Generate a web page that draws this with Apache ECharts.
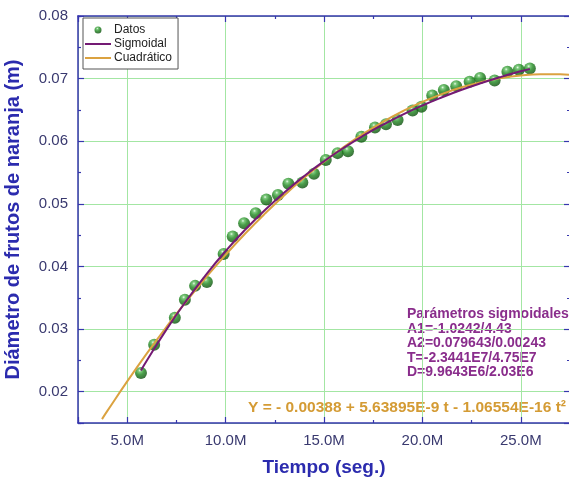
<!DOCTYPE html>
<html lang="es">
<head>
<meta charset="UTF-8">
<title>Diámetro de frutos de naranja</title>
<style>
  html, body { margin: 0; padding: 0; background: #fff; }
  #chart { width: 569px; height: 483px; }
</style>
<script src="https://cdn.jsdelivr.net/npm/echarts@6/dist/echarts.min.js"></script>
</head>
<body>
<div id="chart"></div>
<script>
// tiempo en millones de segundos (eje rotulado 5.0M, 10.0M ...)
var tiempo = [5.70, 6.37, 7.42, 7.93, 8.45, 9.05, 9.90, 10.36, 10.94, 11.53, 12.07, 12.66, 13.19, 13.90, 14.49, 15.09, 15.69,
              16.22, 16.90, 17.59, 18.15, 18.74, 19.50, 19.95, 20.50, 21.09, 21.72, 22.40, 22.93, 23.67, 24.32, 24.90, 25.46];
var diametro = [0.0230, 0.0275, 0.0318, 0.0347, 0.0369, 0.0375, 0.0420, 0.0448, 0.0469, 0.0485, 0.0507, 0.0514, 0.0532, 0.0534, 0.0548, 0.0570, 0.0581,
                0.0584, 0.0607, 0.0622, 0.0627, 0.0634, 0.0649, 0.0655, 0.0673, 0.0682, 0.0688, 0.0695, 0.0701, 0.0697, 0.0711, 0.0714, 0.0716];

// curva sigmoidal ajustada
var sigT = [5.7, 6, 7, 8, 9, 10, 11, 12, 13, 14, 15, 16, 17, 18, 19, 20, 21, 22, 23, 24, 25, 25.46];
var sigY = [0.02338, 0.02497, 0.02996, 0.03451, 0.03867, 0.04245, 0.04588, 0.04902, 0.05187, 0.05446, 0.05681,
            0.05895, 0.06089, 0.06265, 0.06426, 0.06571, 0.06702, 0.06822, 0.06930, 0.07028, 0.07117, 0.07154];

// curva cuadratica ajustada
var cuadT = [3.72, 4, 5, 6, 7, 8, 9, 10, 11, 12, 13, 14, 15, 16, 17, 18, 19, 20, 21, 22, 23, 24, 25, 26, 27, 27.5];
var cuadY = [0.01562, 0.01697, 0.02165, 0.02612, 0.03037, 0.03441, 0.03824, 0.04186, 0.04526, 0.04844, 0.05142, 0.05418, 0.05673,
             0.05907, 0.06119, 0.06310, 0.06479, 0.06628, 0.06755, 0.06861, 0.06945, 0.07008, 0.07050, 0.07070, 0.07069, 0.07061];

var xTicks = [5, 10, 15, 20, 25];
var yTicks = [0.02, 0.03, 0.04, 0.05, 0.06, 0.07, 0.08];

var paramLines = ['Parámetros sigmoidales', 'A1=-1.0242/4.43', 'A2=0.079643/0.00243', 'T=-2.3441E7/4.75E7', 'D=9.9643E6/2.03E6'];
var ecuacion = 'Y = - 0.00388 + 5.63895E-9 t - 1.06554E-16 t²';

function pares(xs, ys) {
    return xs.map(function (x, i) { return [x, ys[i]]; });
}

var frame = '#3636ad';
var labelColor = '#39396f';
var gridGreen = '#a3e6a3';
var fontFam = 'Liberation Sans, Arial, sans-serif';
var lineIcon = 'path://M0,0 L26,0 L26,2 L0,2 Z';

function isTick(list, v) {
    return list.some(function (t) { return Math.abs(t - v) < 1e-6; });
}

function xAxisCfg(pos, minor) {
    return {
        type: 'value', position: pos, min: 2.5, max: 27.5,
        splitNumber: minor ? undefined : 5,
        interval: minor ? 5 : undefined,
        axisLine: { show: !minor, lineStyle: { color: frame, width: 1.5 } },
        axisTick: { inside: true, length: minor ? 3 : 6, lineStyle: { color: frame, width: 1.2 } },
        axisLabel: { show: false },
        splitLine: { show: false }
    };
}
function yAxisCfg(pos, minor) {
    return {
        type: 'value', position: pos, min: 0.015, max: 0.08,
        splitNumber: minor ? undefined : 6,
        interval: minor ? 0.01 : undefined,
        axisLine: { show: !minor, lineStyle: { color: frame, width: 1.5 } },
        axisTick: { inside: true, length: minor ? 3 : 6, lineStyle: { color: frame, width: 1.2 } },
        axisLabel: { show: false },
        splitLine: { show: false }
    };
}

var xMain = xAxisCfg('bottom', false);
xMain.splitLine = { show: true, lineStyle: { color: gridGreen, width: 1 } };
xMain.axisLabel = {
    show: true, margin: 10, color: labelColor, fontSize: 15, fontFamily: fontFam,
    formatter: function (v) { return isTick(xTicks, v) ? v.toFixed(1) + 'M' : ''; }
};
xMain.name = 'Tiempo (seg.)';
xMain.nameLocation = 'middle';
xMain.nameGap = 35;
xMain.nameTextStyle = { color: '#2b2bae', fontSize: 19, fontWeight: 'bold', fontFamily: fontFam };

var yMain = yAxisCfg('left', false);
yMain.splitLine = { show: true, lineStyle: { color: gridGreen, width: 1 } };
yMain.axisLabel = {
    show: true, margin: 10, color: labelColor, fontSize: 15, fontFamily: fontFam,
    formatter: function (v) { return isTick(yTicks, v) ? v.toFixed(2) : ''; }
};
yMain.name = 'Diámetro de frutos de naranja (m)';
yMain.nameLocation = 'middle';
yMain.nameGap = 55;
yMain.nameTextStyle = { color: '#2b2bae', fontSize: 20, fontWeight: 'bold', fontFamily: fontFam };

// esfera verde con brillo
var esfera = {
    type: 'radial', x: 0.4, y: 0.3, r: 0.7,
    colorStops: [
        { offset: 0, color: '#e6fbe6' },
        { offset: 0.18, color: '#5dbb5d' },
        { offset: 0.5, color: '#1d861d' },
        { offset: 1, color: '#0a4d0a' }
    ]
};

var chart = echarts.init(document.getElementById('chart'));
var option = {
    animation: false,
    backgroundColor: '#fff',
    grid: { left: 78, top: 16, right: -1, bottom: 60, outerBoundsMode: 'none' },
    legend: {
        orient: 'vertical', left: 83, top: 18,
        backgroundColor: '#fff', borderColor: '#555', borderWidth: 1,
        padding: [5, 6, 4, 2], itemGap: 0, itemWidth: 26, itemHeight: 7,
        textStyle: { fontSize: 12, fontFamily: fontFam, color: '#222', lineHeight: 14, padding: [0, 0, 0, -2] },
        data: [
            { name: 'Datos', icon: 'circle' },
            { name: 'Sigmoidal', icon: lineIcon },
            { name: 'Cuadrático', icon: lineIcon }
        ]
    },
    xAxis: [xMain, xAxisCfg('bottom', true), xAxisCfg('top', false), xAxisCfg('top', true)],
    yAxis: [yMain, yAxisCfg('left', true), yAxisCfg('right', false), yAxisCfg('right', true)],
    graphic: [
        {
            type: 'text', left: 407, top: 307,
            style: { text: paramLines.join('\n'), fill: '#8a2d8c', font: 'bold 14px ' + fontFam, lineHeight: 14.5 }
        },
        {
            type: 'text', left: 248, top: 400,
            style: { text: ecuacion, fill: '#d49b34', font: 'bold 15.5px ' + fontFam }
        }
    ],
    series: [
        {
            name: 'Datos', type: 'scatter', data: pares(tiempo, diametro),
            symbolSize: 12, itemStyle: { color: esfera }
        },
        {
            name: 'Cuadrático', type: 'line', data: pares(cuadT, cuadY),
            smooth: true, symbol: 'none', lineStyle: { color: '#dba240', width: 2 },
            itemStyle: { color: '#dba240' }
        },
        {
            name: 'Sigmoidal', type: 'line', data: pares(sigT, sigY),
            smooth: true, symbol: 'none', lineStyle: { color: '#741a74', width: 2 },
            itemStyle: { color: '#741a74' }
        }
    ]
};
chart.setOption(option);
</script>
</body>
</html>
